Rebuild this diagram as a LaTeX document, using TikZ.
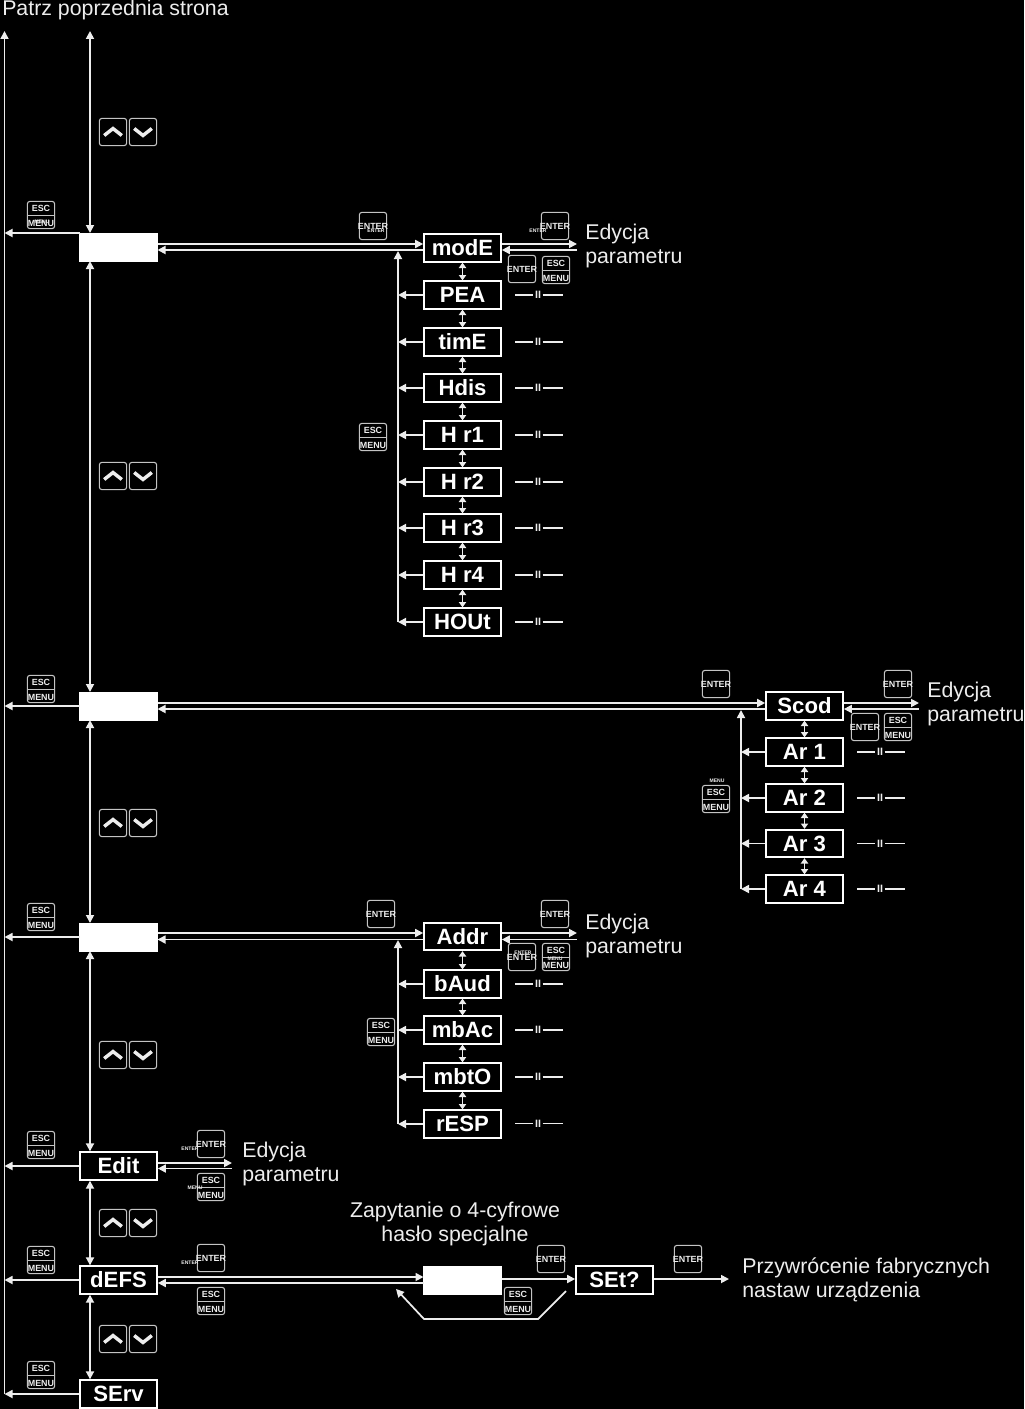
\documentclass[tikz,border=0pt]{standalone}
\usepackage{fontspec}
\setmainfont{Liberation Sans}
\usetikzlibrary{arrows.meta}
\definecolor{keygrey}{HTML}{C4C4C4}
\definecolor{softw}{HTML}{EDEDED}
\tikzset{
  ln/.style={draw=softw,line width=1.3pt},
  arr/.style={ln,-{Triangle[length=6pt,width=6pt]}},
  arr2/.style={ln,{Triangle[length=6pt,width=6pt]}-{Triangle[length=6pt,width=6pt]}},
  dbl/.style={ln,{Triangle[length=4pt,width=5.4pt]}-{Triangle[length=4pt,width=5.4pt]}},
  parbox/.style={draw=white,fill=black,line width=1.5pt,minimum width=57.5pt,minimum height=20.5pt,inner sep=0pt,text=white,font=\fontsize{16.6}{20}\selectfont\bfseries},
  blankbox/.style={fill=white,draw=white,line width=0pt,minimum width=58.5pt,minimum height=21pt,inner sep=0pt},
  keybox/.style={draw=keygrey,fill=black,line width=.8pt,rounded corners=2pt,minimum width=20.5pt,minimum height=20.5pt,inner sep=0pt},
  keytxt/.style={text=softw,inner sep=0pt,font=\fontsize{6.7}{7}\selectfont\bfseries},
  ghosttxt/.style={text=softw,inner sep=0pt,font=\fontsize{3.8}{4}\selectfont\bfseries},
  captxt/.style={text=softw,inner sep=0pt,font=\fontsize{16}{18}\selectfont},
  twomark/.style={text=softw,inner sep=1pt,font=\fontsize{8}{9}\selectfont\bfseries},
  chev/.style={draw=softw,line width=2.6pt,miter limit=10}
}
\newcommand{\EscKey}[3]{%
  \node[keybox] (#1) at (#2,#3) {};
  \draw[draw=keygrey,line width=.7pt] (#1.west) -- (#1.east);
  \node[keytxt] (#1e) at ([yshift=5pt]#1.center) {ESC};
  \node[keytxt] (#1m) at ([yshift=-6.2pt]#1.center) {MENU};
}
\newcommand{\EntKey}[3]{%
  \node[keybox] (#1) at (#2,#3) {};
  \node[keytxt] (#1e) at (#2,#3) {ENTER};
}
\newcommand{\UpDown}[2]{%
  \node[keybox] (u#1) at (113,#2) {};
  \node[keybox] (d#1) at (143,#2) {};
  \draw[chev] ([shift={(-6.6pt,-2.6pt)}]u#1.center) -- ([shift={(0pt,2.6pt)}]u#1.center) -- ([shift={(6.6pt,-2.6pt)}]u#1.center);
  \draw[chev] ([shift={(-6.6pt,2.6pt)}]d#1.center) -- ([shift={(0pt,-2.6pt)}]d#1.center) -- ([shift={(6.6pt,2.6pt)}]d#1.center);
}
\newcommand{\IIMark}[3]{%
  \node[twomark] (#1) at (#2,#3) {II};
  \coordinate (#1a) at (#2-23,#3);
  \coordinate (#1b) at (#2+25,#3);
  \draw[ln] (#1a) -- (#1);
  \draw[ln] (#1) -- (#1b);
}
\begin{document}
\begin{tikzpicture}[x=0.75pt,y=-0.75pt]
\fill[black] (0,0) rectangle (1024,1409);
\useasboundingbox (0,0) rectangle (1024,1409);
% captions
\node[captxt,anchor=base west] (ctop) at (2,16) {Patrz poprzednia strona};
\node[captxt,anchor=north west,align=left] (ce1) at (585,223.5) {Edycja\\parametru};
\node[captxt,anchor=north west,align=left] (ce2) at (927,682) {Edycja\\parametru};
\node[captxt,anchor=north west,align=left] (ce3) at (585,913.5) {Edycja\\parametru};
\node[captxt,anchor=north west,align=left] (ce4) at (242,1141.5) {Edycja\\parametru};
\node[captxt,anchor=north,align=center] (czap) at (455,1202) {Zapytanie o 4-cyfrowe\\hasło specjalne};
\node[captxt,anchor=north west,align=left] (cprz) at (742,1258) {Przywrócenie fabrycznych\\nastaw urządzenia};
% left column boxes
\node[blankbox] (b1) at (118.5,247) {};
\node[blankbox] (b2) at (118.5,706) {};
\node[blankbox] (b3) at (118.5,937) {};
\node[parbox] (edit) at (118.5,1166) {Edit};
\node[parbox] (defs) at (118.5,1280) {dEFS};
\node[parbox] (serv) at (118.5,1394) {SErv};
% first column
\node[parbox] (mode) at (462.5,248) {modE};
\node[parbox] (pea) at (462.5,295) {PEA};
\node[parbox] (time) at (462.5,342) {timE};
\node[parbox] (hdis) at (462.5,388) {Hdis};
\node[parbox] (hr1) at (462.5,435) {H r1};
\node[parbox] (hr2) at (462.5,482) {H r2};
\node[parbox] (hr3) at (462.5,528) {H r3};
\node[parbox] (hr4) at (462.5,575) {H r4};
\node[parbox] (hout) at (462.5,622) {HOUt};
% second column
\node[parbox] (scod) at (804.5,706) {Scod};
\node[parbox] (ar1) at (804.5,752) {Ar 1};
\node[parbox] (ar2) at (804.5,798) {Ar 2};
\node[parbox] (ar3) at (804.5,843.5) {Ar 3};
\node[parbox] (ar4) at (804.5,889) {Ar 4};
% third column
\node[parbox] (addr) at (462.5,936.5) {Addr};
\node[parbox] (baud) at (462.5,984) {bAud};
\node[parbox] (mbac) at (462.5,1030) {mbAc};
\node[parbox] (mbto) at (462.5,1077) {mbtO};
\node[parbox] (resp) at (462.5,1124) {rESP};
% bottom row
\node[blankbox] (b5) at (462.5,1280) {};
\node[parbox] (set) at (614.5,1280) {SEt?};
% helper coordinates
\coordinate (rail) at (4.5,0);
\coordinate (railtop) at (4.5,31);
\coordinate (railbot) at (4.5,1394);
\coordinate (vx) at (90,0);
\coordinate (vxtop) at (90,31);
\coordinate (v1) at (398,0);
\coordinate (v2) at (741,0);
\coordinate (v3) at (398,0);
\coordinate (ed1) at (577,0);
\coordinate (ed2) at (919,0);
\coordinate (ed4) at (232,0);
\coordinate (setend) at (729,1279);
\coordinate (r1) at (566,1291);
\coordinate (r2) at (538,1319);
\coordinate (r3) at (424,1319);
\coordinate (r4) at (396,1289);
% rail
\draw[arr] (railbot) -- (railtop);
\draw[arr] (b1.west |- 0,233) -- (rail |- 0,233);
\draw[arr] (b2.west) -- (rail |- b2.west);
\draw[arr] (b3.west) -- (rail |- b3.west);
\draw[arr] (edit.west) -- (rail |- edit.west);
\draw[arr] (defs.west) -- (rail |- defs.west);
\draw[arr] (serv.west) -- (railbot);
% spine
\draw[arr2] (vxtop) -- (vx |- b1.north);
\draw[arr2] (vx |- b1.south) -- (vx |- b2.north);
\draw[arr2] (vx |- b2.south) -- (vx |- b3.north);
\draw[arr2] (vx |- b3.south) -- (vx |- edit.north);
\draw[arr2] (vx |- edit.south) -- (vx |- defs.north);
\draw[arr2] (vx |- defs.south) -- (vx |- serv.north);
% block 1 links
\draw[arr] (b1.east |- 0,244) -- (mode.west |- 0,244);
\draw[arr] (mode.west |- 0,250) -- (b1.east |- 0,250);
\draw[arr] (mode.east |- 0,244) -- (ed1 |- 0,244);
\draw[arr] (ed1 |- 0,250) -- (mode.east |- 0,250);
\draw[arr] (v1 |- hout.west) -- (v1 |- 0,251);
\foreach \n in {pea,time,hdis,hr1,hr2,hr3,hr4,hout}{\draw[arr] (\n.west) -- (v1 |- \n.west);}
\draw[dbl] (mode) -- (pea);
\draw[dbl] (pea) -- (time);
\draw[dbl] (time) -- (hdis);
\draw[dbl] (hdis) -- (hr1);
\draw[dbl] (hr1) -- (hr2);
\draw[dbl] (hr2) -- (hr3);
\draw[dbl] (hr3) -- (hr4);
\draw[dbl] (hr4) -- (hout);
% block 2 links
\draw[arr] (b2.east |- 0,703) -- (scod.west |- 0,703);
\draw[arr] (scod.west |- 0,709) -- (b2.east |- 0,709);
\draw[arr] (scod.east |- 0,703) -- (ed2 |- 0,703);
\draw[arr] (ed2 |- 0,709) -- (scod.east |- 0,709);
\draw[arr] (v2 |- ar4.west) -- (v2 |- 0,710);
\foreach \n in {ar1,ar2,ar3,ar4}{\draw[arr] (\n.west) -- (v2 |- \n.west);}
\draw[dbl] (scod) -- (ar1);
\draw[dbl] (ar1) -- (ar2);
\draw[dbl] (ar2) -- (ar3);
\draw[dbl] (ar3) -- (ar4);
% block 3 links
\draw[arr] (b3.east |- 0,933) -- (addr.west |- 0,933);
\draw[arr] (addr.west |- 0,939.5) -- (b3.east |- 0,939.5);
\draw[arr] (addr.east |- 0,933) -- (ed1 |- 0,933);
\draw[arr] (ed1 |- 0,939.5) -- (addr.east |- 0,939.5);
\draw[arr] (v3 |- resp.west) -- (v3 |- 0,940);
\foreach \n in {baud,mbac,mbto,resp}{\draw[arr] (\n.west) -- (v3 |- \n.west);}
\draw[dbl] (addr) -- (baud);
\draw[dbl] (baud) -- (mbac);
\draw[dbl] (mbac) -- (mbto);
\draw[dbl] (mbto) -- (resp);
% edit links
\draw[arr] (edit.east |- 0,1163) -- (ed4 |- 0,1163);
\draw[arr] (ed4 |- 0,1168.5) -- (edit.east |- 0,1168.5);
% defs links
\draw[arr] (defs.east |- 0,1277) -- (b5.west |- 0,1277);
\draw[arr] (b5.west |- 0,1283) -- (defs.east |- 0,1283);
\draw[arr] (b5.east |- 0,1279) -- (set.west |- 0,1279);
\draw[arr] (set.east |- 0,1279) -- (setend);
\draw[arr] (r1) -- (r2) -- (r3) -- (r4);
% II marks
\IIMark{ia}{538}{295}
\IIMark{ib}{538}{342}
\IIMark{ic}{538}{388}
\IIMark{id}{538}{435}
\IIMark{ie}{538}{482}
\IIMark{if}{538}{528}
\IIMark{ig}{538}{575}
\IIMark{ih}{538}{622}
\IIMark{ja}{880}{752}
\IIMark{jb}{880}{798}
\IIMark{jc}{880}{843.5}
\IIMark{jd}{880}{889}
\IIMark{ka}{538}{984}
\IIMark{kb}{538}{1030}
\IIMark{kc}{538}{1077}
\IIMark{kd}{538}{1123.5}
% up-down keys
\UpDown{a}{132}
\UpDown{b}{476}
\UpDown{c}{823}
\UpDown{d}{1055}
\UpDown{e}{1223}
\UpDown{f}{1339}
% esc keys
\EscKey{ea}{41}{215}
\EscKey{eb}{373}{437}
\EscKey{ec}{41}{689}
\EscKey{ed}{716}{799}
\EscKey{ee}{41}{917}
\EscKey{ef}{381}{1032}
\EscKey{eg}{556}{270}
\EscKey{eh}{898}{727}
\EscKey{ei}{556}{957}
\EscKey{ej}{41}{1145}
\EscKey{ek}{211}{1187}
\EscKey{el}{41}{1260}
\EscKey{em}{211}{1301}
\EscKey{en}{41}{1375}
\EscKey{eo}{518}{1301}
% enter keys
\EntKey{na}{373}{226}
\EntKey{nb}{555}{226}
\EntKey{nc}{522}{269}
\EntKey{nd}{716}{684}
\EntKey{ne}{898}{684}
\EntKey{nf}{865}{727}
\EntKey{ng}{381}{914}
\EntKey{nh}{555}{914}
\EntKey{ni}{522}{957}
\EntKey{nj}{211}{1144}
\EntKey{nk}{211}{1258}
\EntKey{nl}{551}{1259}
\EntKey{nm}{688}{1259}
% small overlapping labels
\node[ghosttxt] (ga) at (42,222) {MENU};
\node[ghosttxt] (gb) at (376,231) {ENTER};
\node[ghosttxt] (gc) at (538,231) {ENTER};
\node[ghosttxt] (gd) at (717,781) {MENU};
\node[ghosttxt] (ge) at (523,953) {ENTER};
\node[ghosttxt] (gf) at (555,959) {MENU};
\node[ghosttxt] (gg) at (190,1149) {ENTER};
\node[ghosttxt] (gh) at (195,1188) {MENU};
\node[ghosttxt] (gi) at (190,1263) {ENTER};
\end{tikzpicture}
\end{document}
